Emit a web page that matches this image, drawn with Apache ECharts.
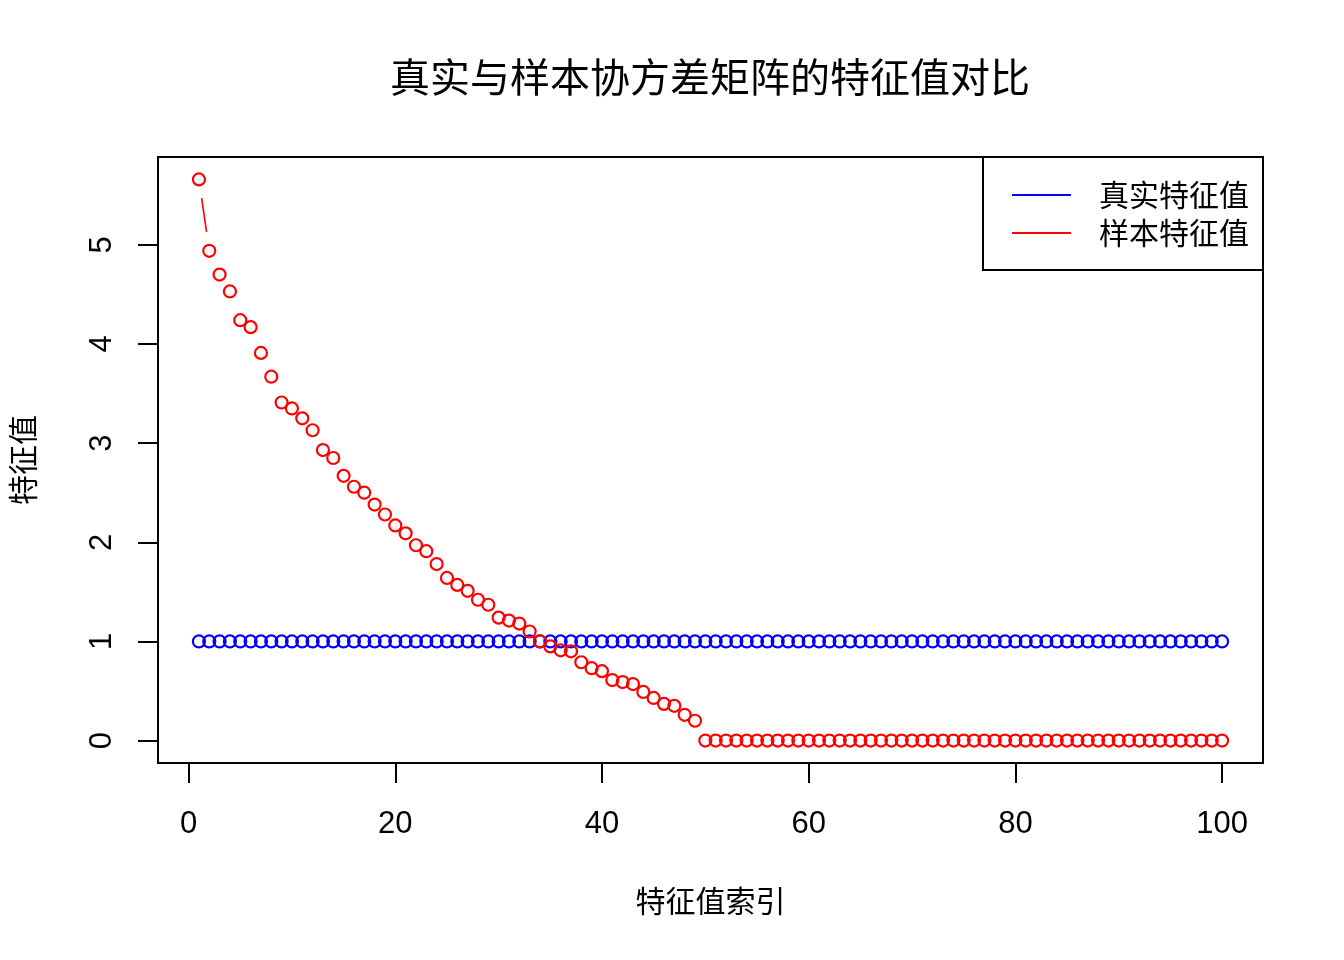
<!DOCTYPE html>
<html>
<head>
<meta charset="utf-8">
<title>真实与样本协方差矩阵的特征值对比</title>
<script src="https://cdn.jsdelivr.net/npm/echarts@6.0.0/dist/echarts.min.js"></script>
<style>
  html, body { margin: 0; padding: 0; background: #fff; }
  #chart { width: 1344px; height: 960px; }
</style>
</head>
<body>
<div id="chart"></div>
<script>
// 特征值索引 1..100
var eigenIndex = [];
for (var i = 1; i <= 100; i++) eigenIndex.push(i);

// 真实特征值: 单位协方差, 全为 1
var trueEigen = [];
for (var i = 0; i < 100; i++) trueEigen.push(1);

// 样本特征值: 前 49 个非零, 其余为 0
var sampleEigenNonzero = [
    5.66, 4.94, 4.70, 4.53, 4.24, 4.17, 3.91, 3.67, 3.41, 3.35,
    3.25, 3.13, 2.93, 2.85, 2.67, 2.56, 2.50, 2.38, 2.28, 2.17,
    2.09, 1.97, 1.91, 1.78, 1.64, 1.57, 1.51, 1.42, 1.37, 1.24,
    1.21, 1.18, 1.10, 1.00, 0.95, 0.91, 0.90, 0.79, 0.73, 0.70,
    0.61, 0.59, 0.57, 0.49, 0.43, 0.37, 0.35, 0.26, 0.20
];
var sampleEigen = sampleEigenNonzero.slice();
while (sampleEigen.length < 100) sampleEigen.push(0);

var xTicks = [0, 20, 40, 60, 80, 100];
var yTicks = [0, 1, 2, 3, 4, 5];

var seriesNames = ['真实特征值', '样本特征值'];
var seriesColors = ['#0000FF', '#FF0000'];

var fontLatin = 'Liberation Sans, Arial, sans-serif';
var fontCJK = 'Noto Sans CJK SC, sans-serif';

// R 的 type = "b": 点之间的连线在每个点周围留出空隙
var GAP = 19;

function toPoints(xs, ys) {
    var out = [];
    for (var i = 0; i < xs.length; i++) out.push([xs[i], ys[i]]);
    return out;
}
function toSegments(xs, ys) {
    var out = [];
    for (var i = 0; i < xs.length - 1; i++) out.push([xs[i], ys[i], xs[i + 1], ys[i + 1]]);
    return out;
}

function segmentRenderer(color) {
    return function (params, api) {
        var p0 = api.coord([api.value(0), api.value(1)]);
        var p1 = api.coord([api.value(2), api.value(3)]);
        var dx = p1[0] - p0[0], dy = p1[1] - p0[1];
        var d = Math.sqrt(dx * dx + dy * dy);
        if (d <= 2 * GAP) return null;
        var ux = dx / d, uy = dy / d;
        return {
            type: 'line',
            shape: {
                x1: p0[0] + ux * GAP, y1: p0[1] + uy * GAP,
                x2: p1[0] - ux * GAP, y2: p1[1] - uy * GAP
            },
            style: { stroke: color, lineWidth: 1.6 }
        };
    };
}

var allY = [trueEigen, sampleEigen];
var series = [];
for (var s = 0; s < 2; s++) {
    series.push({
        name: seriesNames[s],
        type: 'custom',
        renderItem: segmentRenderer(seriesColors[s]),
        encode: { x: [0, 2], y: [1, 3] },
        data: toSegments(eigenIndex, allY[s]),
        silent: true,
        z: 2
    });
    series.push({
        name: seriesNames[s],
        type: 'scatter',
        symbol: 'circle',
        symbolSize: 12,
        itemStyle: { color: 'rgba(0,0,0,0)', borderColor: seriesColors[s], borderWidth: 2.2, opacity: 1 },
        data: toPoints(eigenIndex, allY[s]),
        z: 3 + s
    });
}

var myChart = echarts.init(document.getElementById('chart'));
var option = {
    backgroundColor: '#fff',
    animation: false,
    color: seriesColors,
    title: {
        text: '真实与样本协方差矩阵的特征值对比',
        left: 710,
        top: 57,
        padding: 0,
        textAlign: 'center',
        textStyle: { fontFamily: fontCJK, fontSize: 40, fontWeight: 'normal', color: '#000' }
    },
    legend: {
        orient: 'vertical',
        right: 81,
        top: 157,
        padding: [23, 14, 22, 29],
        borderColor: '#000',
        borderWidth: 2,
        itemWidth: 59,
        itemHeight: 30,
        itemGap: 8,
        selectedMode: false,
        textStyle: { fontFamily: fontCJK, fontSize: 30, color: '#000', padding: [0, 0, 0, 23] },
        data: [
            { name: seriesNames[0], icon: 'path://M0,0L59,0L59,2L0,2Z', itemStyle: { color: seriesColors[0] } },
            { name: seriesNames[1], icon: 'path://M0,0L59,0L59,2L0,2Z', itemStyle: { color: seriesColors[1] } }
        ]
    },
    grid: {
        left: 157,
        top: 157,
        width: 1106,
        height: 606,
        show: true,
        borderColor: '#000',
        borderWidth: 2,
        backgroundColor: 'rgba(0,0,0,0)'
    },
    xAxis: {
        type: 'value',
        min: -2.96,
        max: 103.96,
        name: '特征值索引',
        nameLocation: 'middle',
        nameGap: 123,
        nameTextStyle: { fontFamily: fontCJK, fontSize: 30, color: '#000' },
        axisLine: { show: false, onZero: false },
        splitLine: { show: false },
        axisTick: {
            show: true, inside: false, length: 20,
            customValues: xTicks,
            lineStyle: { color: '#000', width: 2 }
        },
        axisLabel: {
            customValues: xTicks,
            margin: 46,
            fontFamily: fontLatin, fontSize: 31, color: '#000'
        }
    },
    yAxis: {
        type: 'value',
        min: -0.2264,
        max: 5.886,
        name: '特征值',
        nameLocation: 'middle',
        nameGap: 120,
        nameTextStyle: { fontFamily: fontCJK, fontSize: 30, color: '#000' },
        axisLine: { show: false, onZero: false },
        splitLine: { show: false },
        axisTick: {
            show: true, inside: false, length: 20,
            customValues: yTicks,
            lineStyle: { color: '#000', width: 2 }
        },
        axisLabel: {
            customValues: yTicks,
            rotate: 90,
            margin: 40,
            fontFamily: fontLatin, fontSize: 31, color: '#000'
        }
    },
    series: series
};
myChart.setOption(option);
</script>
</body>
</html>
